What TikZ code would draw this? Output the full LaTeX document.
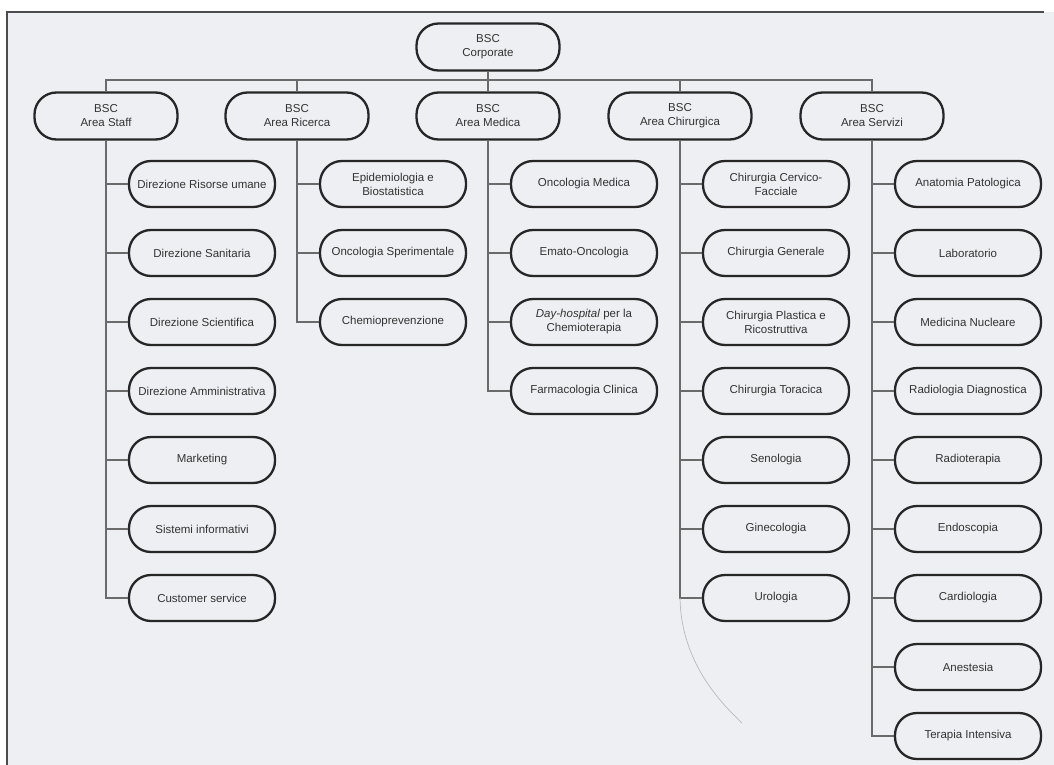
\documentclass[tikz,border=0pt]{standalone}
\usepackage{fontspec}
\setmainfont{Liberation Sans}
\usepackage{tikz}
\usetikzlibrary{positioning}
\definecolor{scanBg}{HTML}{EDEFF2}
\definecolor{boxInk}{HTML}{262626}
\definecolor{lineInk}{HTML}{6A6A6A}
\tikzset{
  obox/.style={draw=boxInk,line width=2.3pt,rounded corners=22pt,align=center,
    inner sep=2pt,text=black!80,font=\fontsize{11.5}{14}\selectfont},
  oarea/.style={obox,minimum width=143pt,minimum height=47pt},
  odept/.style={obox,minimum width=146pt,minimum height=46pt},
  olink/.style={draw=lineInk,line width=1.3pt},
  ocurl/.style={draw=gray!55,line width=0.7pt},
}

\begin{document}
\begin{tikzpicture}[x=1pt,y=1pt,node distance=20.7pt]
\useasboundingbox (0,0) rectangle (1054,-765);
\fill[scanBg] (7,-12) rectangle (1054,-765);
\draw[line width=1.2pt,gray!60!black] (7,-765) -- (7,-12) -- (1044,-12);

% vertice e aree
\node[oarea] (corp) at (488,-47) {BSC\\Corporate};
\node[oarea] (staff) at (106,-116) {BSC\\Area Staff};
\node[oarea] (ricerca) at (297,-116) {BSC\\Area Ricerca};
\node[oarea] (medica) at (488,-116) {BSC\\Area Medica};
\node[oarea] (chir) at (680,-116) {BSC\\Area Chirurgica};
\node[oarea] (servizi) at (872,-116) {BSC\\Area Servizi};
\coordinate (bus) at (488,-80);

% area staff
\node[odept] (st1) at (202,-184) {Direzione Risorse umane};
\node[odept,below=of st1] (st2) {Direzione Sanitaria};
\node[odept,below=of st2] (st3) {Direzione Scientifica};
\node[odept,below=of st3] (st4) {Direzione Amministrativa};
\node[odept,below=of st4] (st5) {Marketing};
\node[odept,below=of st5] (st6) {Sistemi informativi};
\node[odept,below=of st6] (st7) {Customer service};

% area ricerca
\node[odept] (ri1) at (393,-184) {Epidemiologia e\\Biostatistica};
\node[odept,below=of ri1] (ri2) {Oncologia Sperimentale};
\node[odept,below=of ri2] (ri3) {Chemioprevenzione};

% area medica
\node[odept] (me1) at (584,-184) {Oncologia Medica};
\node[odept,below=of me1] (me2) {Emato-Oncologia};
\node[odept,below=of me2] (me3) {\textit{Day-hospital} per la\\Chemioterapia};
\node[odept,below=of me3] (me4) {Farmacologia Clinica};

% area chirurgica
\node[odept] (ch1) at (776,-184) {Chirurgia Cervico-\\Facciale};
\node[odept,below=of ch1] (ch2) {Chirurgia Generale};
\node[odept,below=of ch2] (ch3) {Chirurgia Plastica e\\Ricostruttiva};
\node[odept,below=of ch3] (ch4) {Chirurgia Toracica};
\node[odept,below=of ch4] (ch5) {Senologia};
\node[odept,below=of ch5] (ch6) {Ginecologia};
\node[odept,below=of ch6] (ch7) {Urologia};

% area servizi
\node[odept] (se1) at (968,-184) {Anatomia Patologica};
\node[odept,below=of se1] (se2) {Laboratorio};
\node[odept,below=of se2] (se3) {Medicina Nucleare};
\node[odept,below=of se3] (se4) {Radiologia Diagnostica};
\node[odept,below=of se4] (se5) {Radioterapia};
\node[odept,below=of se5] (se6) {Endoscopia};
\node[odept,below=of se6] (se7) {Cardiologia};
\node[odept,below=of se7] (se8) {Anestesia};
\node[odept,below=of se8] (se9) {Terapia Intensiva};

% collegamenti
\draw[olink] (corp) -- (medica);
\draw[olink] (staff) |- (bus) -| (servizi);
\draw[olink] (ricerca) -- (ricerca |- bus); \draw[olink] (chir) -- (chir |- bus);

\draw[olink] (staff) |- (st7);
\draw[olink] (staff |- st1) -- (st1); \draw[olink] (staff |- st2) -- (st2); \draw[olink] (staff |- st3) -- (st3);
\draw[olink] (staff |- st4) -- (st4); \draw[olink] (staff |- st5) -- (st5); \draw[olink] (staff |- st6) -- (st6);

\draw[olink] (ricerca) |- (ri3);
\draw[olink] (ricerca |- ri1) -- (ri1); \draw[olink] (ricerca |- ri2) -- (ri2);

\draw[olink] (medica) |- (me4);
\draw[olink] (medica |- me1) -- (me1); \draw[olink] (medica |- me2) -- (me2); \draw[olink] (medica |- me3) -- (me3);

\draw[olink] (chir) |- (ch7);
\draw[olink] (chir |- ch1) -- (ch1); \draw[olink] (chir |- ch2) -- (ch2); \draw[olink] (chir |- ch3) -- (ch3);
\draw[olink] (chir |- ch4) -- (ch4); \draw[olink] (chir |- ch5) -- (ch5); \draw[olink] (chir |- ch6) -- (ch6);

\draw[olink] (servizi) |- (se9);
\draw[olink] (servizi |- se1) -- (se1); \draw[olink] (servizi |- se2) -- (se2); \draw[olink] (servizi |- se3) -- (se3);
\draw[olink] (servizi |- se4) -- (se4); \draw[olink] (servizi |- se5) -- (se5); \draw[olink] (servizi |- se6) -- (se6);
\draw[olink] (servizi |- se7) -- (se7); \draw[olink] (servizi |- se8) -- (se8);

\coordinate (curl) at (742,-723);
\draw[ocurl] (chir |- ch7) .. controls (681,-655) and (712,-695) .. (curl);
\end{tikzpicture}
\end{document}
